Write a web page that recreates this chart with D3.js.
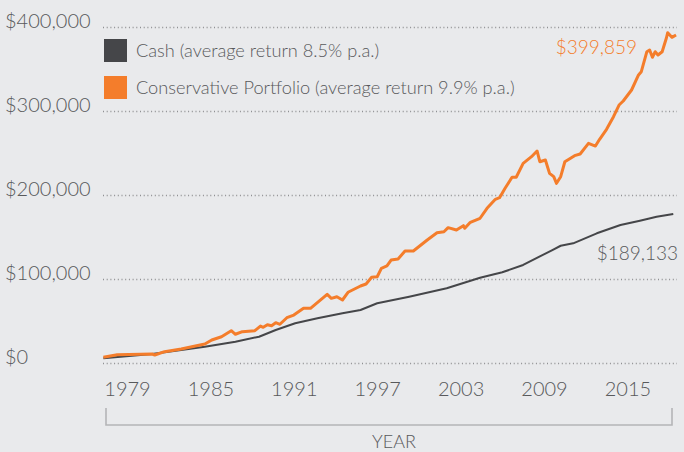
<!DOCTYPE html>
<html>
<head>
<meta charset="utf-8">
<script src="https://cdn.jsdelivr.net/npm/d3@7"></script>
<style>
	html, body { margin: 0; padding: 0; background: #e9eaec; }
	svg { display: block; font-family: Lato, "Open Sans", sans-serif; font-weight: 300; }
	.grid line { stroke: #8f9092; stroke-width: 1.3; stroke-dasharray: 1, 2.7; }
	.grid .domain { display: none; }
	.xaxis .domain { display: none; }
	.xaxis text { fill: #58595b; font-size: 20px; font-family: Lato, sans-serif; font-weight: 300; }
</style>
</head>
<body>
<svg width="684" height="452"></svg>
<script>
// year values (decimal years)
var portfolioYears = [1977.3, 1978.3, 1980.8, 1981.0, 1981.7, 1982.9, 1984.6, 1985.1, 1985.8, 1986.5,
	1986.8, 1987.3, 1988.2, 1988.6, 1988.8, 1989.1, 1989.4, 1989.7, 1990.0, 1990.5,
	1991.0, 1991.7, 1992.2, 1993.4, 1993.7, 1994.1, 1994.5, 1994.9, 1995.8, 1996.2,
	1996.6, 1997.0, 1997.3, 1997.7, 1998.0, 1998.5, 1999.0, 1999.6, 2000.6, 2001.3,
	2001.8, 2002.1, 2002.7, 2003.2, 2003.3, 2003.7, 2004.4, 2004.9, 2005.5, 2005.8,
	2006.2, 2006.7, 2007.0, 2007.5, 2008.1, 2008.5, 2008.7, 2009.1, 2009.4, 2009.7,
	2009.9, 2010.2, 2010.5, 2011.2, 2011.6, 2012.2, 2012.7, 2013.0, 2013.5, 2014.0,
	2014.4, 2014.7, 2015.3, 2015.8, 2016.0, 2016.4, 2016.6, 2016.8, 2017.0, 2017.2,
	2017.5, 2017.8, 2017.9, 2018.2, 2018.5];
var portfolioValues = [6800, 9900, 10700, 9500, 13500, 16700, 22600, 27400, 31300, 38500,
	34200, 37300, 38500, 44000, 42500, 45600, 44400, 48000, 46100, 53900,
	57100, 65100, 65100, 81800, 77000, 78900, 75000, 84200, 91700, 94000,
	102000, 102700, 112700, 115500, 122600, 123800, 133300, 133300, 146400, 155100,
	156300, 161100, 158300, 163500, 160400, 167500, 172300, 184200, 194900, 196800,
	208000, 221100, 221100, 237700, 245600, 252400, 239600, 241700, 225800, 221800,
	213900, 221800, 239600, 246800, 248800, 261500, 258300, 266300, 278200, 293200,
	307100, 311900, 325000, 342900, 346800, 370600, 372600, 363900, 370600, 366700,
	370600, 386600, 393200, 387700, 390500];

var cashYears = [1977.3, 1980.8, 1984.6, 1986.8, 1988.5, 1989.7, 1991.1, 1992.7, 1994.5, 1995.8,
	1997.0, 1999.3, 2002.0, 2004.4, 2006.0, 2007.5, 2009.6, 2010.2, 2011.1, 2012.8,
	2014.5, 2015.9, 2017.1, 2018.3];
var cashValues = [5600, 10700, 19400, 25400, 31300, 39300, 47300, 53200, 59200, 63100,
	71100, 78900, 88900, 101500, 108000, 116700, 134500, 139600, 142500, 154400,
	164300, 169400, 174200, 177400];

var yTicks = [0, 100000, 200000, 300000, 400000];
var xTicks = [1979, 1985, 1991, 1997, 2003, 2009, 2015];

var seriesNames = ["Cash (average return 8.5% p.a.)", "Conservative Portfolio (average return 9.9% p.a.)"];
var seriesColors = ["#454649", "#f47d2b"];
var endLabels = ["$189,133", "$399,859"];

var svg = d3.select("svg");

var x = d3.scaleLinear().domain([1979, 2015]).range([127, 627.4]);
var y = d3.scaleLinear().domain([0, 400000]).range([363, 27]);

// dotted gridlines
svg.append("g")
	.attr("class", "grid")
	.attr("transform", "translate(103,0)")
	.call(d3.axisRight(y).tickValues(yTicks).tickSize(574).tickFormat(""));

// y labels
svg.append("g")
	.selectAll("text")
	.data(yTicks)
	.enter().append("text")
	.attr("x", 5)
	.attr("y", function(d) { return y(d) + 1; })
	.attr("fill", "#58595b")
	.style("font-size", "20px")
	.text(function(d) { return "$" + d3.format(",")(d); });

// x axis labels
var xAxis = svg.append("g")
	.attr("class", "xaxis")
	.attr("transform", "translate(0,379)")
	.call(d3.axisBottom(x).tickValues(xTicks).tickSize(0).tickFormat(d3.format("d")));
xAxis.selectAll("text").attr("dy", "0.71em");

// bracket under the axis
svg.append("path")
	.attr("d", "M106,408V425H672V408")
	.attr("fill", "none")
	.attr("stroke", "#b4b5b7")
	.attr("stroke-width", 1.6);

svg.append("text")
	.attr("x", 394)
	.attr("y", 448)
	.attr("text-anchor", "middle")
	.attr("fill", "#58595b")
	.style("font-size", "18px")
	.text("YEAR");

var line = d3.line()
	.x(function(d) { return x(d[0]); })
	.y(function(d) { return y(d[1]); });

var cash = d3.zip(cashYears, cashValues);
var portfolio = d3.zip(portfolioYears, portfolioValues);

svg.append("path")
	.datum(cash)
	.attr("d", line)
	.attr("fill", "none")
	.attr("stroke", seriesColors[0])
	.attr("stroke-width", 2)
	.attr("stroke-linejoin", "round");

svg.append("path")
	.datum(portfolio)
	.attr("d", line)
	.attr("fill", "none")
	.attr("stroke", seriesColors[1])
	.attr("stroke-width", 3)
	.attr("stroke-linejoin", "round");

// legend
var legend = svg.append("g")
	.selectAll("g")
	.data(seriesNames)
	.enter().append("g")
	.attr("transform", function(d, i) { return "translate(104," + (39 + i * 37) + ")"; });
legend.append("rect")
	.attr("width", 23)
	.attr("height", 23)
	.attr("fill", function(d, i) { return seriesColors[i]; });
legend.append("text")
	.attr("x", 32)
	.attr("y", 18)
	.attr("fill", "#58595b")
	.style("font-size", "18.2px")
	.text(function(d) { return d; });

// end values
svg.append("text")
	.attr("x", 637)
	.attr("y", 54)
	.attr("text-anchor", "end")
	.attr("fill", seriesColors[1])
	.style("font-size", "19px")
	.text(endLabels[1]);

svg.append("text")
	.attr("x", 678)
	.attr("y", 260)
	.attr("text-anchor", "end")
	.attr("fill", "#58595b")
	.style("font-size", "19px")
	.text(endLabels[0]);
</script>
</body>
</html>
